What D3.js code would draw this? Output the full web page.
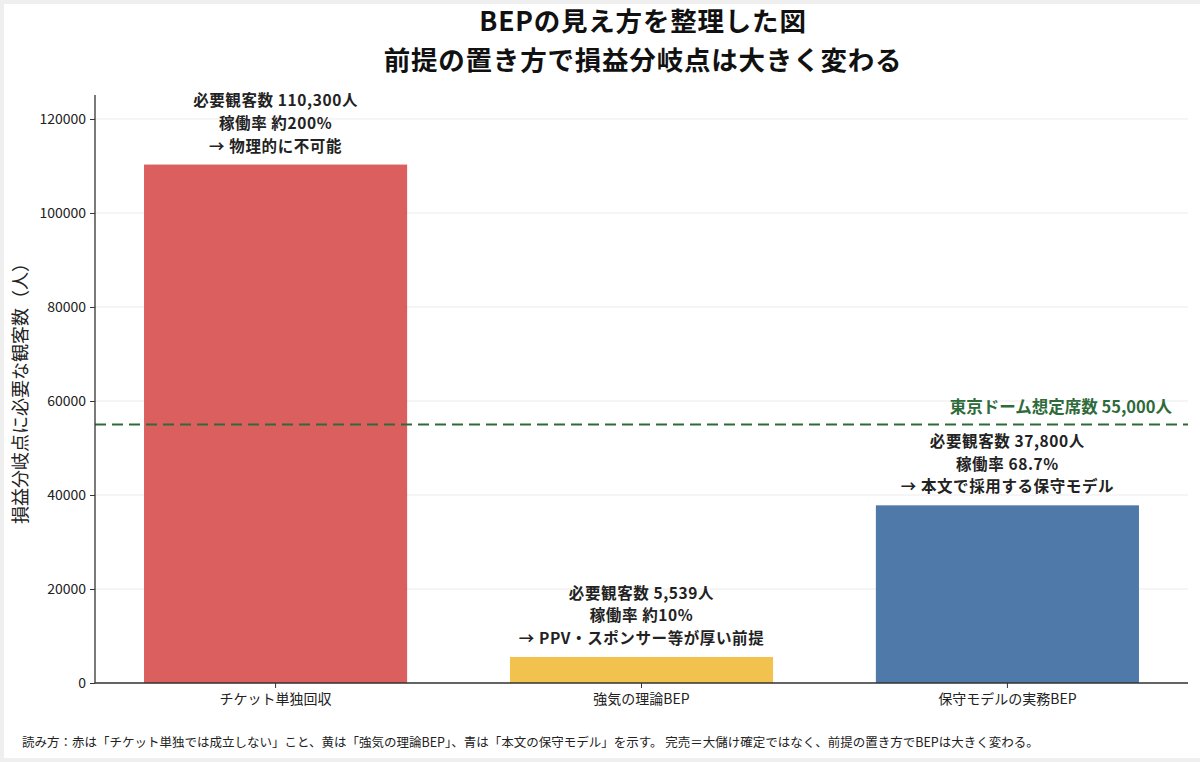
<!DOCTYPE html>
<html>
<head>
<meta charset="utf-8">
<script src="https://cdn.jsdelivr.net/npm/d3@7"></script>
<style>
  body { margin: 0; background: #efefef; }
  svg { display: block; font-family: "Noto Sans CJK JP", "Noto Sans", sans-serif; }
</style>
</head>
<body>
<div id="chart"></div>
<script>
const categories = ["チケット単独回収", "強気の理論BEP", "保守モデルの実務BEP"];
const values = [110300, 5539, 37800];
const barColors = ["#db5f5f", "#f2c24f", "#4e79a9"];
const annotations = [
    ["必要観客数 110,300人", "稼働率 約200%", "→ 物理的に不可能"],
    ["必要観客数 5,539人", "稼働率 約10%", "→ PPV・スポンサー等が厚い前提"],
    ["必要観客数 37,800人", "稼働率 68.7%", "→ 本文で採用する保守モデル"]
];
const yTicks = [0, 20000, 40000, 60000, 80000, 100000, 120000];
const domeCapacity = 55000;
const domeLabel = "東京ドーム想定席数 55,000人";
const titleLines = ["BEPの見え方を整理した図", "前提の置き方で損益分岐点は大きく変わる"];
const yLabel = "損益分岐点に必要な観客数（人）";
const footer = "読み方：赤は「チケット単独では成立しない」こと、黄は「強気の理論BEP」、青は「本文の保守モデル」を示す。 完売＝大儲け確定ではなく、前提の置き方でBEPは大きく変わる。";

const W = 1200, H = 762;
const margin = { top: 95, right: 12, bottom: 79, left: 95 };
const width = W - margin.left - margin.right;
const height = H - margin.top - margin.bottom;

const svg = d3.select("#chart").append("svg")
    .attr("width", W)
    .attr("height", H);

svg.append("rect")
    .attr("x", 4).attr("y", 4)
    .attr("width", W - 4).attr("height", H - 8)
    .attr("fill", "#fff");

// title, two lines
svg.append("g").selectAll("text")
    .data(titleLines)
    .join("text")
    .attr("x", 643)
    .attr("y", (d, i) => 31 + i * 38.5)
    .attr("text-anchor", "middle")
    .attr("font-size", 26.5)
    .attr("font-weight", "bold")
    .attr("letter-spacing", 0.8)
    .attr("fill", "#111")
    .text(d => d);

const g = svg.append("g")
    .attr("transform", `translate(${margin.left},${margin.top})`);

const x = d3.scaleBand()
    .domain(categories)
    .range([0, width])
    .paddingInner(0.281)
    .paddingOuter(0.134);

const y = d3.scaleLinear()
    .domain([0, 125100])
    .range([height, 0]);

// grid
g.append("g").selectAll("line")
    .data(yTicks)
    .join("line")
    .attr("x1", 0).attr("x2", width)
    .attr("y1", d => y(d)).attr("y2", d => y(d))
    .attr("stroke", "#ebebeb")
    .attr("stroke-width", 1);

// bars
g.selectAll(".bar")
    .data(values)
    .join("rect")
    .attr("class", "bar")
    .attr("x", (d, i) => x(categories[i]))
    .attr("y", d => y(d))
    .attr("width", x.bandwidth())
    .attr("height", d => height - y(d))
    .attr("fill", (d, i) => barColors[i]);

// dome capacity line
g.append("line")
    .attr("x1", 0).attr("x2", width)
    .attr("y1", y(domeCapacity)).attr("y2", y(domeCapacity))
    .attr("stroke", "#2e6a3a")
    .attr("stroke-width", 2.2)
    .attr("stroke-dasharray", "11,6");

g.append("text")
    .attr("x", width - 16)
    .attr("y", y(domeCapacity) - 11)
    .attr("text-anchor", "end")
    .attr("font-size", 16.5)
    .attr("font-weight", "bold")
    .attr("fill", "#2e6a3a")
    .text(domeLabel);

// annotations above each bar
annotations.forEach((lines, i) => {
    const cx = x(categories[i]) + x.bandwidth() / 2;
    const top = y(values[i]);
    g.append("g").selectAll("text")
        .data(lines)
        .join("text")
        .attr("x", cx)
        .attr("y", (d, j) => top - 13 - (lines.length - 1 - j) * 22.6)
        .attr("text-anchor", "middle")
        .attr("font-size", 15.5)
        .attr("font-weight", "bold")
        .attr("letter-spacing", 0.6)
        .attr("fill", "#222")
        .text(d => d);
});

// axes
const yAxis = g.append("g")
    .call(d3.axisLeft(y).tickValues(yTicks).tickFormat(d3.format("d")).tickSize(5).tickPadding(4));
yAxis.select(".domain").attr("stroke", "#333").attr("stroke-width", 1.3).attr("d", `M0,0V${height}`);
yAxis.selectAll(".tick line").attr("stroke", "#333");
yAxis.selectAll(".tick text").attr("font-size", 14).attr("fill", "#222")
    .attr("font-family", "'Noto Sans CJK JP', sans-serif");

const xAxis = g.append("g")
    .attr("transform", `translate(0,${height})`)
    .call(d3.axisBottom(x).tickSize(5).tickPadding(6));
xAxis.select(".domain").attr("stroke", "#333").attr("stroke-width", 1.3).attr("d", `M0,0H${width}`);
xAxis.selectAll(".tick line").attr("stroke", "#333");
xAxis.selectAll(".tick text").attr("font-size", 14).attr("fill", "#222")
    .attr("font-family", "'Noto Sans CJK JP', sans-serif");

// y label
svg.append("text")
    .attr("transform", `translate(27,${margin.top + height / 2}) rotate(-90)`)
    .attr("text-anchor", "middle")
    .attr("font-size", 18)
    .attr("fill", "#222")
    .text(yLabel);

// footer
svg.append("text")
    .attr("x", 22)
    .attr("y", 747)
    .attr("font-size", 12.5)
    .attr("fill", "#222")
    .text(footer);
</script>
</body>
</html>
